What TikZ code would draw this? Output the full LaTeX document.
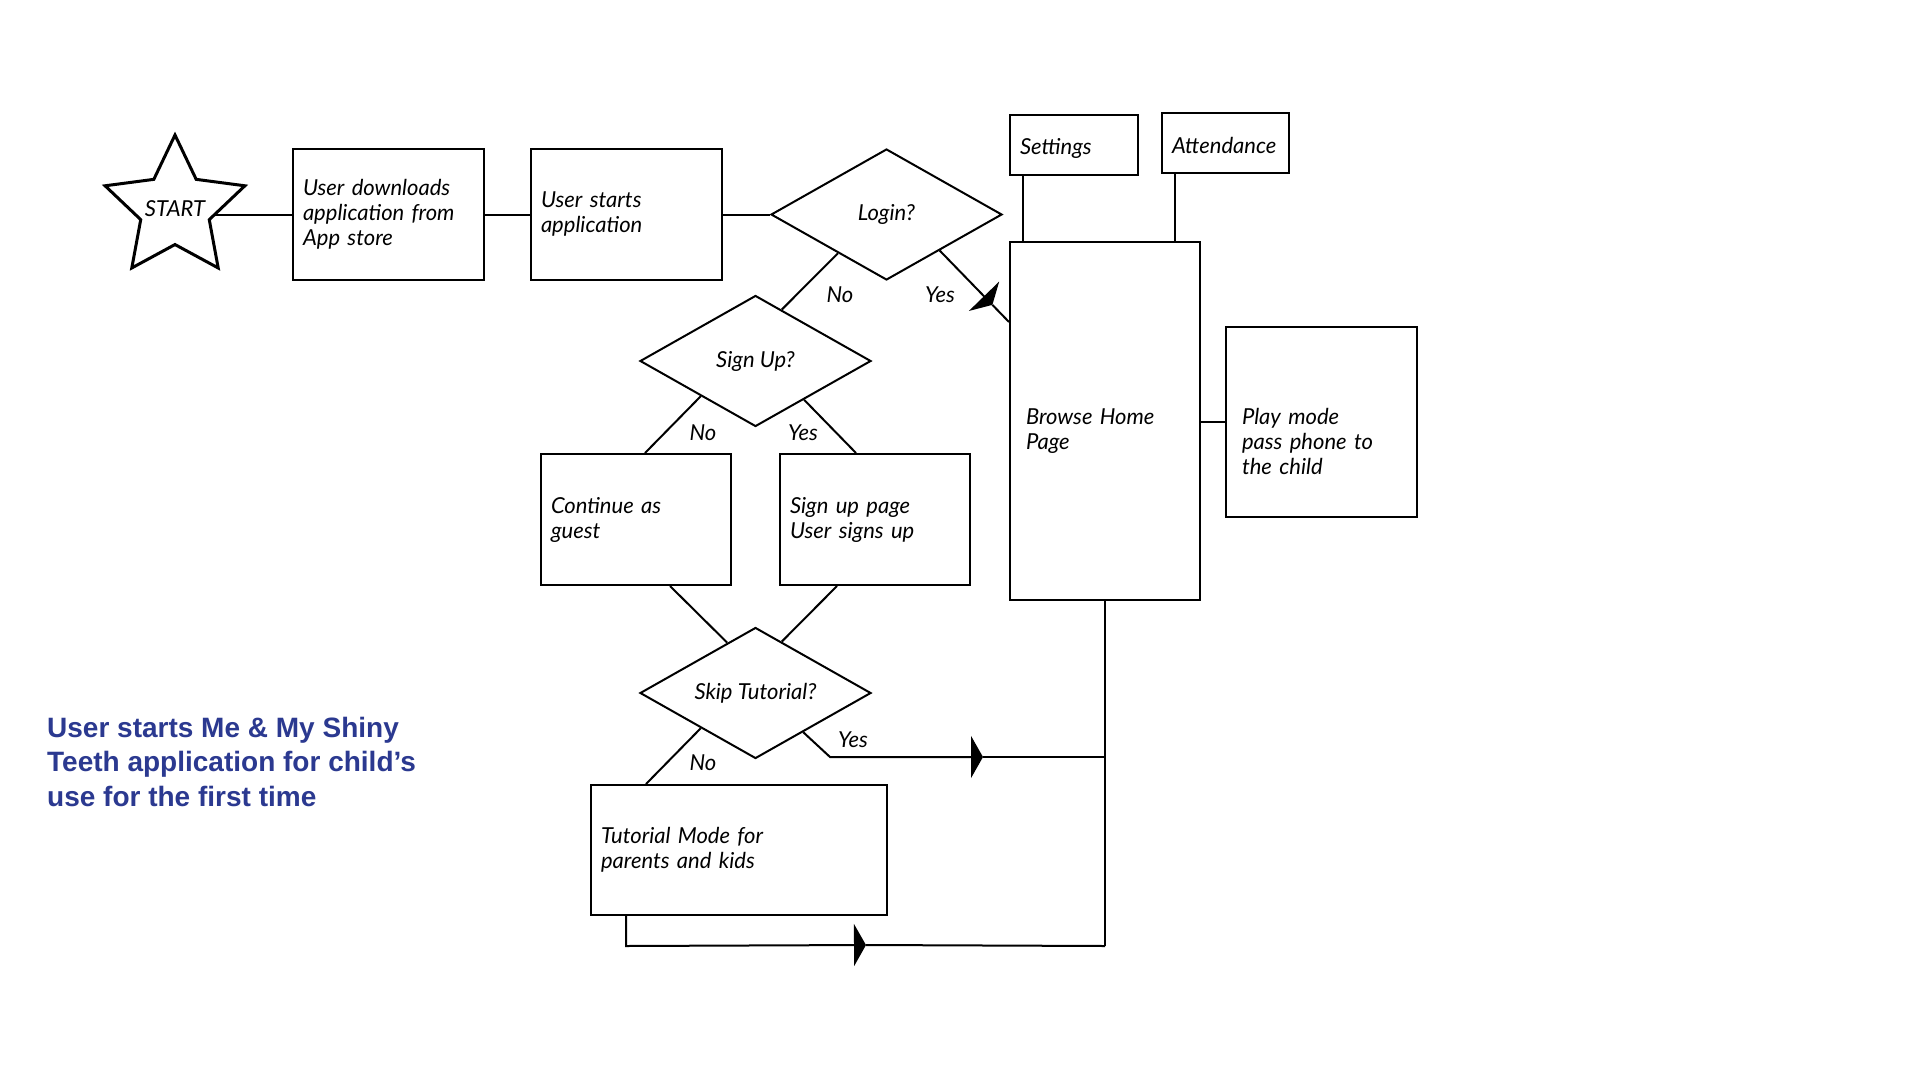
\documentclass[tikz,border=0pt]{standalone}
\usepackage{fontspec}
\setmainfont{Lato}
\newfontfamily\titlefont{Liberation Sans}
\usetikzlibrary{shapes.geometric,arrows.meta,calc}
\definecolor{titleblue}{RGB}{43,57,144}
\begin{document}
\begin{tikzpicture}[x=1bp,y=-1bp,
  every node/.style={font=\fontsize{22bp}{25bp}\selectfont\itshape},
  conn/.style={draw=black,line width=2bp},
  box/.style={draw=black,line width=2bp,rectangle,inner xsep=10bp,inner ysep=0pt,align=left},
  dia/.style={draw=black,line width=2bp,diamond,inner sep=0pt,minimum width=231bp,minimum height=131bp},
  lbl/.style={inner sep=0pt},
  arrowmid/.style={-{Triangle[length=12bp,width=42bp]}}
]
\useasboundingbox[fill=white] (0,0) rectangle (1920,1080);

% nodes
\node[star,star points=5,star point ratio=2.04,minimum size=147bp,inner sep=0pt,draw=black,line width=3bp] (start) at (175,208.5) {\makebox[0pt]{START}};
\node[box,minimum width=191bp,minimum height=131bp,text width=171bp] (b1) at (388.5,214.5) {User downloads\\application from\\App store};
\node[box,minimum width=191bp,minimum height=131bp,text width=171bp] (b2) at (626.5,214.5) {User starts\\application};
\node[dia] (login) at (886.5,214.5) {\makebox[0pt]{Login?}};
\node[box,minimum width=128bp,minimum height=60bp,text width=108bp] (settings) at (1074,145) {\rule{0pt}{22bp}Settings};
\node[box,minimum width=127bp,minimum height=60bp,text width=107bp] (attend) at (1225.5,143) {\rule{0pt}{22bp}Attendance};
\node[box,inner xsep=16bp,minimum width=190bp,minimum height=358bp,text width=158bp] (browse) at (1105,421) {\mbox{}\\[11bp]Browse Home\\Page};
\node[box,inner xsep=16bp,minimum width=191bp,minimum height=190bp,text width=159bp] (play) at (1321.5,422) {\mbox{}\\[30bp]Play mode\\pass phone to\\the child};
\node[dia] (signup) at (755.5,361) {\makebox[0pt]{Sign Up?}};
\node[box,minimum width=190bp,minimum height=131bp,text width=170bp] (cont) at (636,519.5) {Continue as\\guest};
\node[box,minimum width=190bp,minimum height=131bp,text width=170bp] (supage) at (875,519.5) {Sign up page\\User signs up};
\node[dia] (skip) at (755.5,693) {\makebox[0pt]{Skip Tutorial?}};
\node[box,minimum width=296bp,minimum height=130bp,text width=276bp] (tut) at (739,850) {Tutorial Mode for\\parents and kids};

% title
\node[anchor=base west,inner sep=0pt,align=left,text=titleblue,
      font=\titlefont\bfseries\fontsize{28bp}{34.5bp}\selectfont] (title) at (47,806)
  {User starts Me \& My Shiny\\Teeth application for child’s\\use for the first time};

% labels
\node[lbl] (lgno) at (840,295) {No};
\node[lbl] (lgyes) at (940,295) {Yes};
\node[lbl] (suno) at (703,433) {No};
\node[lbl] (suyes) at (803,433) {Yes};
\node[lbl] (skno) at (703,763) {No};
\node[lbl] (skyes) at (853,740) {Yes};

% coordinates
\coordinate (starR) at (214,214.5);
\coordinate (lgNoS) at ($(login.west)!0.583!(login.south)$);
\coordinate (lgNoE) at ($(signup.north)!0.226!(signup.east)$);
\coordinate (lgYesS) at ($(login.south)!0.457!(login.east)$);
\coordinate (lgYesE) at ($(browse.north west)+(0,81)$);
\coordinate (lgYesTip) at ($(lgYesS)!0.76!(lgYesE)$);
\coordinate (suNoS) at ($(signup.west)!0.53!(signup.south)$);
\coordinate (suNoE) at ($(cont.north west)+(105,0)$);
\coordinate (suYesS) at ($(signup.south)!0.417!(signup.east)$);
\coordinate (suYesE) at ($(supage.north west)+(77,0)$);
\coordinate (contB) at ($(cont.south west)+(130,0)$);
\coordinate (skUL) at ($(skip.west)!0.757!(skip.north)$);
\coordinate (supB) at ($(supage.south west)+(58,0)$);
\coordinate (skUR) at ($(skip.north)!0.226!(skip.east)$);
\coordinate (skNoS) at ($(skip.west)!0.53!(skip.south)$);
\coordinate (skNoE) at ($(tut.north west)+(56,0)$);
\coordinate (skYesS) at ($(skip.south)!0.41!(skip.east)$);
\coordinate (skBend) at (830,757);
\coordinate (skTip) at (983,757);
\coordinate (skJoin) at (browse.south |- skBend);
\coordinate (tutB) at ($(tut.south west)+(36,0)$);
\coordinate (botL) at ($(tutB)+(0,30)$);
\coordinate (botTip) at (866,945);
\coordinate (botR) at (browse.south |- botL);
\coordinate (setB) at ($(settings.south west)+(14,0)$);
\coordinate (attB) at ($(attend.south west)+(14,0)$);

% connectors
\draw[conn] (starR) -- (b1.west);
\draw[conn] (b1.east) -- (b2.west);
\draw[conn] (b2.east) -- (login.west);
\draw[conn] (lgNoS) -- (lgNoE);
\draw[conn,arrowmid] (lgYesS) -- (lgYesTip);
\draw[conn] (lgYesTip) -- (lgYesE);
\draw[conn] (setB) -- (setB |- browse.north);
\draw[conn] (attB) -- (attB |- browse.north);
\draw[conn] (browse.east |- play.west) -- (play.west);
\draw[conn] (suNoS) -- (suNoE);
\draw[conn] (suYesS) -- (suYesE);
\draw[conn] (contB) -- (skUL);
\draw[conn] (supB) -- (skUR);
\draw[conn] (skNoS) -- (skNoE);
\draw[conn,arrowmid] (skYesS) -- (skBend) -- (skTip);
\draw[conn] (skTip) -- (skJoin);
\draw[conn] (browse.south) -- (botR);
\draw[conn,arrowmid] (tutB) -- (botL) -- (botTip);
\draw[conn] (botTip) -- (botR);
\end{tikzpicture}
\end{document}
